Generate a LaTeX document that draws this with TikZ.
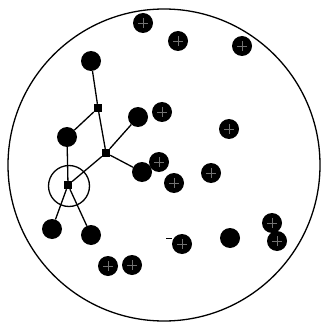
\documentclass[tikz,border=0pt]{standalone}
\begin{document}
\begin{tikzpicture}[x=1pt,y=-1pt,
  dot/.style={circle,fill=black,inner sep=0pt,minimum size=20pt,
    path picture={\draw[black!55,line width=0.5pt]
      ([yshift=-5pt]path picture bounding box.north) -- ([yshift=5pt]path picture bounding box.south)
      ([xshift=5pt]path picture bounding box.west) -- ([xshift=-5pt]path picture bounding box.east);}},
  sdot/.style={circle,fill=black,inner sep=0pt,minimum size=20pt},
  hub/.style={rectangle,fill=black,inner sep=0pt,minimum size=8pt},
  edge/.style={line width=1.3pt},
  ring/.style={draw,line width=1.3pt,circle,inner sep=0pt}]
\useasboundingbox (0,0) rectangle (327,331);
\node[ring,minimum size=312pt] (outer) at (164,165) {};
\node[dot] (d1) at (143,23) {};
\node[dot] (d2) at (178,41) {};
\node[dot] (d3) at (242,46) {};
\node[sdot] (d4) at (91,61) {};
\node[sdot] (d5) at (138,117) {};
\node[dot] (d6) at (162,112) {};
\node[dot] (d7) at (229,129) {};
\node[sdot] (d8) at (67,137) {};
\node[dot] (d9) at (159,162) {};
\node[sdot] (d10) at (142,172) {};
\node[dot] (d11) at (174,183) {};
\node[dot] (d12) at (211,173) {};
\node[sdot] (d13) at (52,229) {};
\node[sdot] (d14) at (91,235) {};
\node[dot] (d15) at (182,244) {};
\node[sdot] (d16) at (230,238) {};
\node[dot] (d17) at (272,223) {};
\node[dot] (d18) at (277,241) {};
\node[dot] (d19) at (108,266) {};
\node[dot] (d20) at (132,265) {};
\node[hub] (s1) at (98,108) {};
\node[hub] (s2) at (106,153) {};
\node[hub] (s3) at (68,185) {};
\node[ring,minimum size=41pt] (r3) at (69,186) {};
\coordinate (t1) at (166,238);
\coordinate (t2) at (172,238);
\draw[line width=0.6pt] (t1) -- (t2);
\draw[edge] (d4) -- (s1);
\draw[edge] (s1) -- (d8);
\draw[edge] (s1) -- (s2);
\draw[edge] (s2) -- (d5);
\draw[edge] (s2) -- (d10);
\draw[edge] (s2) -- (s3);
\draw[edge] (d8) -- (s3);
\draw[edge] (s3) -- (d13);
\draw[edge] (s3) -- (d14);
\end{tikzpicture}
\end{document}
